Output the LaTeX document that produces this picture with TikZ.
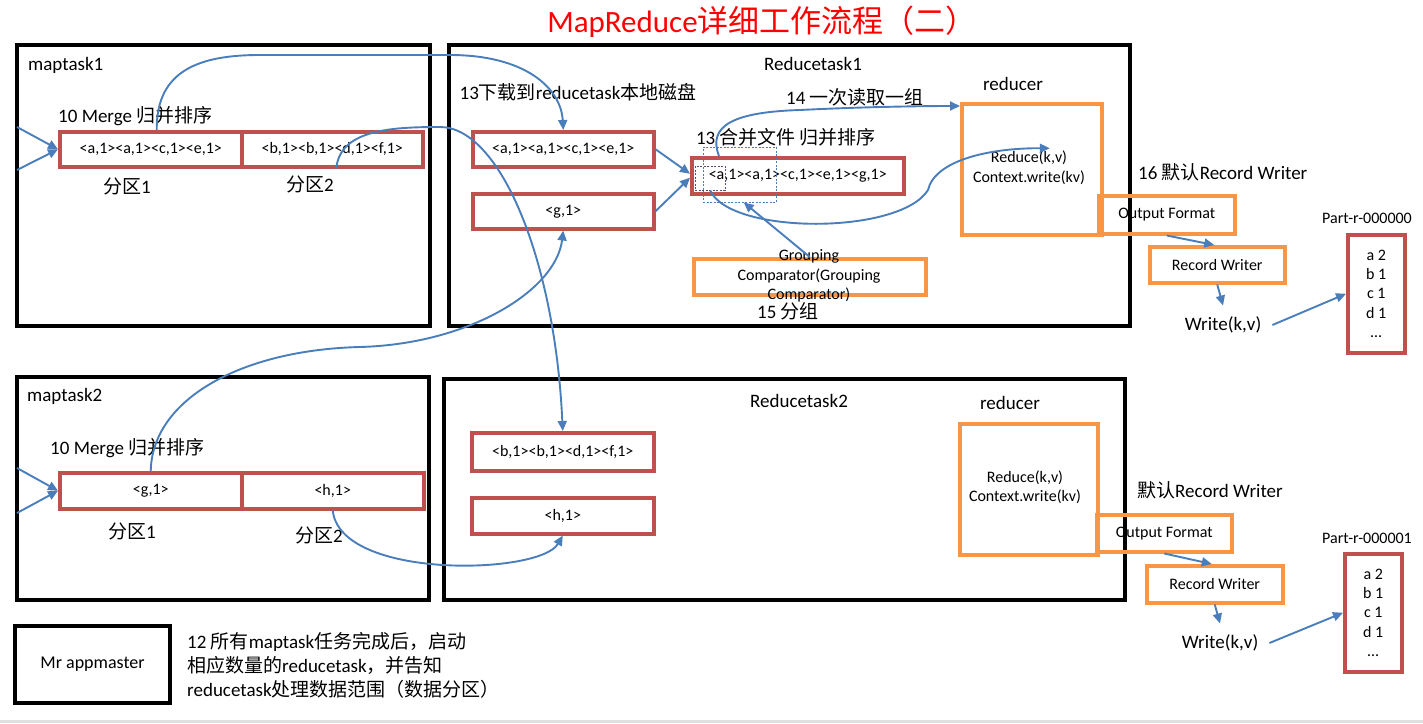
\documentclass[tikz,border=0pt]{standalone}
\usepackage{fontspec}
\setmainfont{Carlito}
\newfontfamily\cjk{Noto Sans CJK SC}
\definecolor{kvred}{HTML}{C0504D}
\definecolor{boxorange}{HTML}{F79646}
\definecolor{flowblue}{HTML}{4A7EBB}
\definecolor{keypurple}{HTML}{5F497A}
\usetikzlibrary{arrows.meta,calc}

\begin{document}
\begin{tikzpicture}[x=1pt,y=-1pt,
  task/.style={draw,line width=4pt,anchor=north west,inner sep=0pt,font=\fontsize{18}{22}\selectfont},
  kv/.style={draw=kvred,line width=3.5pt,anchor=north west,inner sep=0pt,font=\fontsize{16}{19.3}\selectfont},
  orbox/.style={draw=boxorange,line width=3.5pt,anchor=north west,inner sep=0pt,font=\fontsize{16}{19}\selectfont},
  lbl/.style={font=\fontsize{19}{24}\selectfont,inner sep=0pt},
  smalltxt/.style={font=\fontsize{16}{19.5}\selectfont,inner sep=0pt},
  flow/.style={flowblue,line width=1.9pt,-{Triangle[length=10pt,width=9pt]}}]
  \useasboundingbox (0,0) rectangle (1423,723);
  \fill[black!12] (0,720) rectangle (1423,723);
  % title
  \node[font=\fontsize{31}{35}\selectfont,text=red] (title) at (762,22) {MapReduce{\cjk 详细工作流程（二）}};
  % maptask1
  \node[task,minimum width=413pt,minimum height=281pt] (map1) at (15,43) {};
  \node[lbl,anchor=west] (map1lbl) at (28,65) {maptask1};
  \node[lbl,anchor=west] (merge1) at (58,116) {10 Merge {\cjk 归并排序}};
  \node[kv,minimum width=182pt,minimum height=35pt] (p11) at (58,130) {<a,1><a,1><c,1><e,1>};
  \node[kv,minimum width=181pt,minimum height=35pt] (p12) at (240,130) {<b,1><b,1><d,1><f,1>};
  \node[lbl] (part11) at (127,186) {{\cjk 分区}1};
  \node[lbl] (part12) at (310,184) {{\cjk 分区}2};
  \coordinate (in11) at (17,127);
  \coordinate (in12) at (17,170);
  \draw[flow] (in11) -- (p11.west);
  \draw[flow] (in12) -- (p11.west);
  % maptask2
  \node[task,minimum width=412pt,minimum height=223pt] (map2) at (15,375) {};
  \node[lbl,anchor=west] (map2lbl) at (27,396) {maptask2};
  \node[lbl,anchor=west] (merge2) at (50,448) {10 Merge {\cjk 归并排序}};
  \node[kv,minimum width=182pt,minimum height=36pt] (p21) at (58,471) {<g,1>};
  \node[kv,minimum width=182pt,minimum height=36pt] (p22) at (240,471) {<h,1>};
  \node[lbl] (part21) at (132,531) {{\cjk 分区}1};
  \node[lbl] (part22) at (319,535) {{\cjk 分区}2};
  \coordinate (in21) at (17,468);
  \coordinate (in22) at (17,513);
  \draw[flow] (in21) -- (p21.west);
  \draw[flow] (in22) -- (p21.west);
  % Reducetask1
  \node[task,minimum width=681pt,minimum height=281pt] (rt1) at (447,43) {};
  \node[lbl] (rt1lbl) at (813,64) {Reducetask1};
  \node[lbl] (dl1) at (578,92) {13{\cjk 下载到}reducetask{\cjk 本地磁盘}};
  \node[kv,minimum width=181pt,minimum height=35pt] (a1) at (471,130) {<a,1><a,1><c,1><e,1>};
  \node[kv,minimum width=181pt,minimum height=35pt] (g1) at (471,192) {<g,1>};
  \node[lbl] (mrglbl) at (786,137) {13 {\cjk 合并文件 归并排序}};
  \node[kv,minimum width=212pt,minimum height=36pt] (mrg1) at (690,156) {<a,1><a,1><c,1><e,1><g,1>};
  \node[draw=flowblue,thin,dash pattern=on 2pt off 1.5pt,anchor=north west,inner sep=0pt,minimum width=73pt,minimum height=55pt] (grpsel) at (703,147) {};
  \node[draw=keypurple,thin,dash pattern=on 2pt off 1.5pt,anchor=north west,inner sep=0pt,minimum width=30pt,minimum height=24pt] (keysel) at (695,166) {};
  \node[lbl] (step14) at (855,97) {14 {\cjk 一次读取一组}};
  \node[lbl] (rdlbl1) at (1013,84) {reducer};
  \node[orbox,minimum width=140pt,minimum height=131pt] (rd1) at (960,102) {};
  \node[smalltxt,align=center] (rdtxt1) at (1029,168) {Reduce(k,v)\\Context.write(kv)};
  \node[orbox,minimum width=232pt,minimum height=36pt] (grp1) at (692,257) {};
  \node[smalltxt,align=center] (grptxt) at (809,276) {Grouping\\Comparator(Grouping\\Comparator)};
  \node[lbl] (step15) at (788,311) {15 {\cjk 分组}};
  \draw[flow] (a1.east) -- ($(mrg1.west)+(0,-2)$);
  \draw[flow] (g1.east) -- ($(mrg1.west)+(0,2)$);
  \draw[flow] (grp1.north) -- ($(grpsel.south)+(4,0)$);
  \draw[flow] ($(mrg1.north west)+(29,0)$) .. controls (707,125) and (735,112) .. (800,110)
    .. controls (860,107) and (920,106) .. ($(rd1.north west)+(0,4)$);
  \draw[flow] (keysel.south) .. controls (730,235) and (900,235) .. (928,190)
    .. controls (935,160) and (990,148) .. ($(rd1.center)+(18,-21)$);
  % output of reducetask1
  \node[lbl,anchor=west] (step16) at (1138,172) {16 {\cjk 默认}Record Writer};
  \node[orbox,minimum width=136pt,minimum height=38pt] (of1) at (1097,194) {Output Format};
  \node[orbox,minimum width=135pt,minimum height=36pt] (rw1) at (1148,245) {Record Writer};
  \node[lbl,inner sep=11pt] (wr1) at (1223,325) {Write(k,v)};
  \node[smalltxt] (pt1lbl) at (1367,218) {Part-r-000000};
  \node[kv,minimum width=57pt,minimum height=118pt,align=center] (out1) at (1346,233) {a 2\\b 1\\c 1\\d 1\\…};
  \draw[flow] (of1.south) -- ($(rw1.north)+(-3,0)$);
  \draw[flow] (rw1.south) -- (wr1.north);
  \draw[flow] (wr1.east) -- (out1.west);
  % Reducetask2
  \node[task,minimum width=681pt,minimum height=221pt] (rt2) at (442,377) {};
  \node[lbl] (rt2lbl) at (799,401) {Reducetask2};
  \node[kv,minimum width=182pt,minimum height=38pt] (b2) at (470,431) {<b,1><b,1><d,1><f,1>};
  \node[kv,minimum width=182pt,minimum height=36pt] (h2) at (470,496) {<h,1>};
  \node[lbl] (rdlbl2) at (1010,403) {reducer};
  \node[orbox,minimum width=138pt,minimum height=131pt] (rd2) at (958,422) {};
  \node[smalltxt,align=center] (rdtxt2) at (1025,487) {Reduce(k,v)\\Context.write(kv)};
  % output of reducetask2
  \node[lbl,anchor=west] (dflt2) at (1137,490) {{\cjk 默认}Record Writer};
  \node[orbox,minimum width=135pt,minimum height=37pt] (of2) at (1095,513) {Output Format};
  \node[orbox,minimum width=136pt,minimum height=37pt] (rw2) at (1145,564) {Record Writer};
  \node[lbl,inner sep=11pt] (wr2) at (1220,643) {Write(k,v)};
  \node[smalltxt] (pt2lbl) at (1367,538) {Part-r-000001};
  \node[kv,minimum width=57pt,minimum height=118pt,align=center] (out2) at (1343,552) {a 2\\b 1\\c 1\\d 1\\…};
  \draw[flow] (of2.south) -- ($(rw2.north)+(-3,0)$);
  \draw[flow] (rw2.south) -- (wr2.north);
  \draw[flow] (wr2.east) -- (out2.west);
  % shuffle: partitions to reducetasks
  \draw[flow] ($(p11.north)+(6,0)$) .. controls (156,70) and (200,55) .. (260,55) -- (450,55)
    .. controls (525,55) and (561,88) .. (a1.north);
  \draw[flow] ($(p12.south)+(4,0)$) .. controls (340,130) and (390,127) .. (440,127)
    .. controls (500,127) and (555,260) .. (b2.north);
  \draw[flow] (p21.north) .. controls (152,400) and (240,350) .. (360,347)
    .. controls (470,344) and (556,290) .. (g1.south);
  \draw[flow] (p22.south) .. controls (340,580) and (540,575) .. (h2.south);
  % appmaster
  \node[task,minimum width=155pt,minimum height=77pt] (mr) at (13,624) {Mr appmaster};
  \node[lbl,anchor=west,align=left] (note) at (187,665) {12 {\cjk 所有}maptask{\cjk 任务完成后，启动}\\{\cjk 相应数量的}reducetask{\cjk ，并告知}\\reducetask{\cjk 处理数据范围（数据分区）}};
\end{tikzpicture}
\end{document}
